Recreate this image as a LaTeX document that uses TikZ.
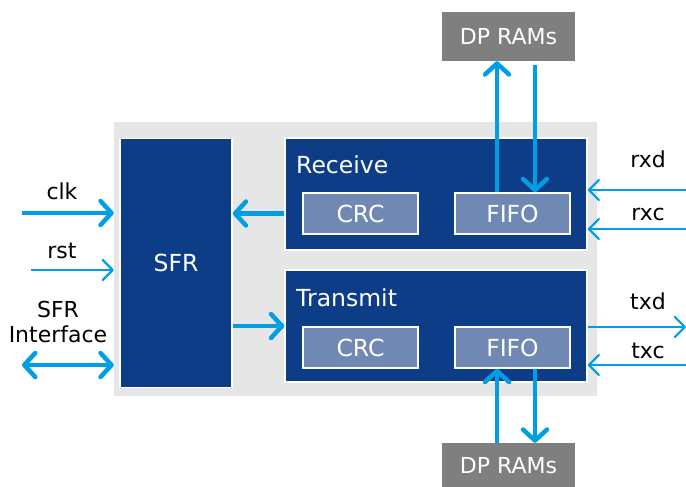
\documentclass[tikz,border=0pt]{standalone}
\usepackage{fontspec}
\setmainfont{DejaVu Sans}
\usetikzlibrary{arrows.meta}
\usetikzlibrary{positioning}
\definecolor{darkblue}{HTML}{0D3D86}
\definecolor{lightblue}{HTML}{009FE3}
\definecolor{subblue}{HTML}{7089B4}
\definecolor{ramgray}{HTML}{7F7F7F}
\definecolor{bggray}{HTML}{E6E6E6}
\tikzset{
	bus/.style={draw=lightblue, line width=4.5pt, -{Straight Barb[length=11pt,width=24pt,round]}},
	busboth/.style={bus, {Straight Barb[length=11pt,width=24pt,round]}-{Straight Barb[length=11pt,width=24pt,round]}},
	wire/.style={draw=lightblue, line width=2.2pt, -{Straight Barb[length=10pt,width=20pt,round]}},
	bigtext/.style={font=\fontsize{23.5}{25}\selectfont}
}

\begin{document}
\begin{tikzpicture}[x=1pt, y=-1pt, font=\fontsize{22}{25}\selectfont]
	\useasboundingbox (0,0) rectangle (686,487);
	\node[fill=bggray, inner sep=0, minimum width=483pt, minimum height=274pt] (bg) at (355.5,259) {};
	\begin{scope}[every node/.style={fill=darkblue, draw=white, line width=1.5pt, inner sep=0, text=white, bigtext}]
		\node[minimum width=112pt, minimum height=249pt] (sfr) at (176,263) {SFR};
		\node[minimum width=302pt, minimum height=112pt] (rcv) at (436,194) {};
		\node[minimum width=302pt, minimum height=112pt] (xmt) at (436,326) {};
	\end{scope}
	\node[anchor=base west, text=white, inner sep=0, bigtext] (rcvname) at (296,173) {Receive};
	\node[anchor=base west, text=white, inner sep=0, bigtext] (xmtname) at (296,306) {Transmit};
	\begin{scope}[every node/.style={fill=subblue, draw=white, line width=1.5pt, inner sep=0, text=white, minimum width=115pt, minimum height=41pt, bigtext}]
		\node (crcr) at (360.5,213.5) {CRC};
		\node (fifor) at (512.5,213.5) {FIFO};
		\node (crct) at (360.5,347.5) {CRC};
		\node (fifot) at (512.5,347.5) {FIFO};
	\end{scope}
	\begin{scope}[every node/.style={fill=ramgray, inner sep=0, text=white, minimum width=133pt}]
		\node[minimum height=49pt] (ramr) at (508.5,36.5) {DP RAMs};
		\node[minimum height=46pt] (ramt) at (508.5,466) {DP RAMs};
	\end{scope}
	% signal names
	\begin{scope}[every node/.style={anchor=base, inner sep=0}]
		\node (clk) at (62,199) {clk};
		\node (rst) at (62,258) {rst};
		\node (rxd) at (648,167) {rxd};
		\node (rxc) at (648,220) {rxc};
		\node (txd) at (648,309) {txd};
		\node (txc) at (648,358) {txc};
	\end{scope}
	\node[align=center, inner sep=0] (sfrif) at (58,322) {SFR\\Interface};
	% free ends
	\coordinate (clkin) at (22,213);
	\coordinate (rstin) at (31,270);
	\coordinate (ifout) at (22,365);
	\coordinate (rxdin) at (686,190);
	\coordinate (rxcin) at (686,229);
	\coordinate (txdout) at (686,327);
	\coordinate (txcin) at (686,365);
	\begin{scope}
		\path (clkin) edge[bus] (bg.west |- clkin);
		\path (rstin) edge[wire] (bg.west |- rstin);
		\path (ifout) edge[busboth] (bg.west |- ifout);
		\path (rcv.west |- crcr) edge[bus] (sfr.east |- crcr);
		\path (sfr.east |- 0,326) edge[bus] (xmt.west |- 0,326);
		\path (rxdin) edge[wire] (rcv.east |- rxdin);
		\path (rxcin) edge[wire] (rcv.east |- rxcin);
		\path (xmt.east |- txdout) edge[wire] (txdout);
		\path (txcin) edge[wire] (xmt.east |- txcin);
		\path (fifor.north -| 497,0) edge[bus] (ramr.south -| 497,0);
		\path (535,65) edge[bus] (fifor.north -| 535,0);
		\path (ramt.north -| 497,0) edge[bus] (fifot.south -| 497,0);
		\path (fifot.south -| 535,0) edge[bus] (ramt.north -| 535,0);
	\end{scope}
\end{tikzpicture}
\end{document}
